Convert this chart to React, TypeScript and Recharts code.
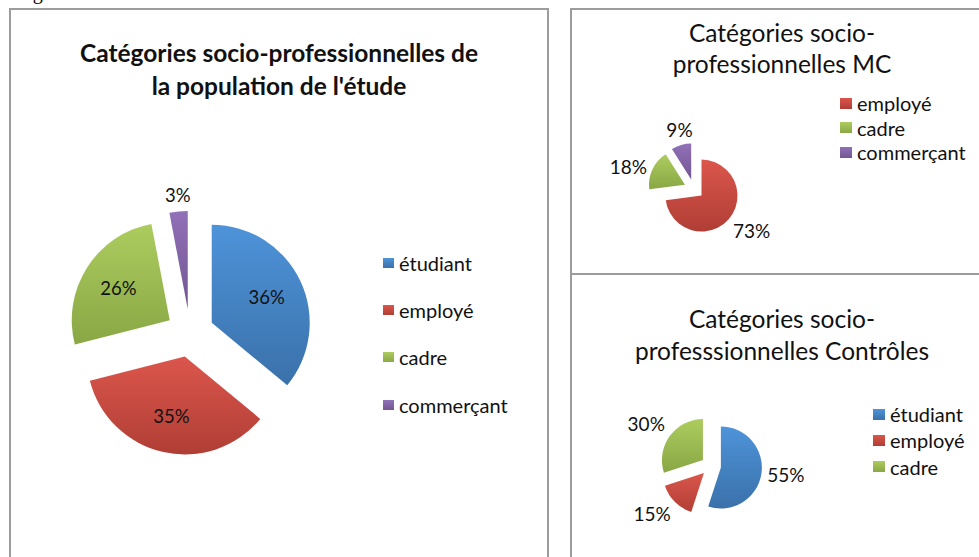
import React from 'react';
import { PieChart, Pie, Cell, Sector, Legend, Tooltip } from 'recharts';

// ---- data ----
const mainCategories = ['étudiant', 'employé', 'cadre', 'commerçant'];
const mainValues = [36, 35, 26, 3];
const mcCategories = ['employé', 'cadre', 'commerçant'];
const mcValues = [73, 18, 9];
const ctrlCategories = ['étudiant', 'employé', 'cadre'];
const ctrlValues = [55, 15, 30];

const mainTitle = ['Catégories socio-professionnelles de', "la population de l'étude"];
const mcTitle = ['Catégories socio-', 'professionnelles MC'];
const ctrlTitle = ['Catégories socio-', 'professsionnelles Contrôles'];

const palette: Record<string, [string, string]> = {
  'étudiant': ['#4E93D9', '#3A71AA'],
  'employé': ['#DB564C', '#B03E35'],
  'cadre': ['#ACCC5F', '#89A744'],
  'commerçant': ['#9171B7', '#735593'],
};

const FONT = 'Lato, "Liberation Sans", sans-serif';
const RADIAN = Math.PI / 180;

const toRows = (cats: string[], vals: number[]) => cats.map((c, i) => ({ name: c, value: vals[i] }));

const makeExploded = (explode: number) => (props: any) => {
  const { cx, cy, midAngle, innerRadius, outerRadius, startAngle, endAngle, fill } = props;
  const a = -midAngle * RADIAN;
  return (
    <Sector
      cx={cx + explode * Math.cos(a)}
      cy={cy + explode * Math.sin(a)}
      innerRadius={innerRadius}
      outerRadius={outerRadius}
      startAngle={startAngle}
      endAngle={endAngle}
      fill={fill}
      stroke="none"
    />
  );
};

const makeLabel = (explode: number, inside: boolean, fontSize: number, gap: number) => (props: any) => {
  const { cx, cy, midAngle, outerRadius, value, percent } = props;
  const a = -midAngle * RADIAN;
  const cos = Math.cos(a);
  const sin = Math.sin(a);
  if (inside && percent >= 0.05) {
    const r = explode + outerRadius * 0.62;
    return (
      <text x={cx + r * cos} y={cy + r * sin} textAnchor="middle" dominantBaseline="central"
        fontFamily={FONT} fontSize={fontSize} fill="#111">{`${value}%`}</text>
    );
  }
  const r = outerRadius + explode + gap;
  const x = cx + r * cos;
  const y = cy + r * sin;
  const anchor = cos > 0.3 ? 'start' : cos < -0.3 ? 'end' : 'middle';
  const dy = sin > 0.5 ? fontSize * 0.75 : sin < -0.5 ? -fontSize * 0.1 : fontSize * 0.35;
  return (
    <text x={x} y={y + dy} textAnchor={anchor} fontFamily={FONT} fontSize={fontSize} fill="#111">{`${value}%`}</text>
  );
};

const makeLegend = (order: string[], spacing: number, fontSize: number, sw: number, sh: number) => (props: any) => {
  const items = [...(props.payload || [])].sort(
    (a: any, b: any) => order.indexOf(a.value) - order.indexOf(b.value)
  );
  return (
    <div style={{ fontFamily: FONT, fontSize, color: '#111' }}>
      {items.map((p: any) => {
        const c = palette[p.value] || ['#888', '#666'];
        return (
          <div key={p.value} style={{ display: 'flex', alignItems: 'center', height: spacing, whiteSpace: 'nowrap' }}>
            <span style={{ display: 'inline-block', width: sw, height: sh, marginRight: 5,
              background: `linear-gradient(${c[0]}, ${c[1]})` }} />
            <span>{p.value}</span>
          </div>
        );
      })}
    </div>
  );
};

type PieBoxProps = {
  id: string;
  cats: string[];
  vals: number[];
  width: number;
  height: number;
  cx: number;
  cy: number;
  radius: number;
  explode: number;
  inside: boolean;
  labelSize: number;
  labelGap: number;
  legendLeft: number;
  legendTop: number;
  legendSpacing: number;
  legendSize: number;
  sw: number;
  sh: number;
};

function PieBox(p: PieBoxProps) {
  const data = toRows(p.cats, p.vals);
  const shape = makeExploded(p.explode);
  return (
    <PieChart width={p.width} height={p.height} margin={{ top: 0, right: 0, bottom: 0, left: 0 }}>
      <defs>
        {p.cats.map((c, i) => (
          <linearGradient key={c} id={`${p.id}-g${i}`} x1="0" y1="0" x2="0" y2="1">
            <stop offset="0%" stopColor={palette[c][0]} />
            <stop offset="100%" stopColor={palette[c][1]} />
          </linearGradient>
        ))}
      </defs>
      <Pie
        data={data}
        dataKey="value"
        nameKey="name"
        cx={p.cx}
        cy={p.cy}
        outerRadius={p.radius}
        startAngle={90}
        endAngle={-270}
        stroke="none"
        isAnimationActive={false}
        labelLine={false}
        label={makeLabel(p.explode, p.inside, p.labelSize, p.labelGap)}
        {...({ shape } as any)}
        activeShape={shape}
        inactiveShape={shape}
      >
        {data.map((d, i) => (
          <Cell key={d.name} fill={`url(#${p.id}-g${i})`} />
        ))}
      </Pie>
      <Tooltip defaultIndex={0} content={() => null} cursor={false} />
      <Legend
        layout="vertical"
        align="right"
        verticalAlign="top"
        content={makeLegend(p.cats, p.legendSpacing, p.legendSize, p.sw, p.sh)}
        wrapperStyle={{ left: p.legendLeft, top: p.legendTop, right: 'auto', bottom: 'auto', width: 'auto' }}
      />
    </PieChart>
  );
}

const boxBorder = '2px solid #9c9c9c';

export default function App() {
  return (
    <div style={{ position: 'absolute', left: 0, top: 0, width: 979, height: 557, overflow: 'hidden', background: '#fff' }}>
      <div style={{ position: 'absolute', left: 16, top: -18, fontFamily: '"Liberation Serif", serif', fontSize: 20, lineHeight: '20px' }}>Figure</div>

      {/* main chart */}
      <div style={{ position: 'absolute', left: 9, top: 8, width: 540, height: 600, boxSizing: 'border-box', border: boxBorder }}>
        <div style={{ position: 'absolute', left: 0, top: 26, width: 536, textAlign: 'center', fontFamily: FONT, fontWeight: 700, fontSize: 24.5, lineHeight: '33px', color: '#111' }}>
          {mainTitle.map((t) => <div key={t}>{t}</div>)}
        </div>
        <div style={{ position: 'absolute', left: 0, top: 0 }}>
          <PieBox id="main" cats={mainCategories} vals={mainValues} width={536} height={560}
            cx={179} cy={323} radius={98} explode={24} inside labelSize={18.5} labelGap={8}
            legendLeft={372} legendTop={229} legendSpacing={47.3} legendSize={20} sw={11} sh={10} />
        </div>
      </div>

      {/* MC chart */}
      <div style={{ position: 'absolute', left: 570, top: 8, width: 424, height: 267, boxSizing: 'border-box', border: boxBorder }}>
        <div style={{ position: 'absolute', left: 0, top: 7, width: 420, textAlign: 'center', fontFamily: FONT, fontSize: 24.5, lineHeight: '31px', color: '#111' }}>
          {mcTitle.map((t) => <div key={t}>{t}</div>)}
        </div>
        <div style={{ position: 'absolute', left: 0, top: 0 }}>
          <PieBox id="mc" cats={mcCategories} vals={mcValues} width={420} height={263}
            cx={122} cy={179} radius={36} explode={10} inside={false} labelSize={19} labelGap={6}
            legendLeft={268} legendTop={81} legendSpacing={24.5} legendSize={20} sw={12} sh={11} />
        </div>
      </div>

      {/* Controls chart */}
      <div style={{ position: 'absolute', left: 570, top: 273, width: 424, height: 300, boxSizing: 'border-box', border: boxBorder }}>
        <div style={{ position: 'absolute', left: 0, top: 28, width: 420, textAlign: 'center', fontFamily: FONT, fontSize: 24.5, lineHeight: '32px', color: '#111' }}>
          {ctrlTitle.map((t) => <div key={t}>{t}</div>)}
        </div>
        <div style={{ position: 'absolute', left: 0, top: 0 }}>
          <PieBox id="ctrl" cats={ctrlCategories} vals={ctrlValues} width={420} height={296}
            cx={139} cy={191} radius={41} explode={10} inside={false} labelSize={19} labelGap={6}
            legendLeft={301} legendTop={126} legendSpacing={26.3} legendSize={20} sw={12} sh={11} />
        </div>
      </div>
    </div>
  );
}
